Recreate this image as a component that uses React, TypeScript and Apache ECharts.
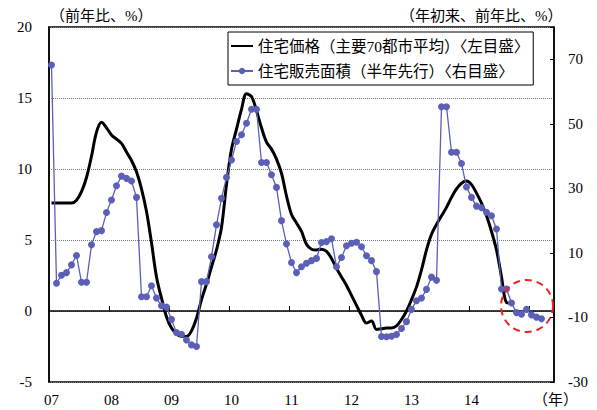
import React, { useEffect, useRef } from 'react';
import * as echarts from 'echarts';

// Year tick labels (category axis, one category per month)
const yearLabels = ['07', '08', '09', '10', '11', '12', '13', '14', '15'];
const monthCount = 101;

// 住宅価格（主要70都市平均）前年比 % — left axis
const priceYoY = [
  7.6, 7.6, 7.6, 7.6, 7.6, 7.8, 8.4, 9.4, 10.9, 12.6, 13.3, 12.9,
  12.4, 12.1, 11.8, 11.2, 10.6, 9.8, 8.6, 7.0, 4.8, 2.4, 0.9, -0.4,
  -1.2, -1.6, -1.8, -1.8, -1.4, -0.5, 0.8, 1.9, 3.1, 4.3, 5.9, 8.9,
  11.4, 12.8, 14.2, 15.3, 15.1, 14.1, 12.9, 11.9, 11.4, 10.7, 9.7, 8.1,
  6.8, 6.2, 5.6, 4.7, 4.35, 4.3, 4.35, 4.2, 3.7, 3.0, 2.4, 1.8,
  1.1, 0.4, -0.3, -0.85, -0.7, -1.3, -1.25, -1.2, -1.2, -1.05, -0.6, 0.0,
  0.8, 1.7, 2.9, 4.3, 5.4, 6.1, 6.7, 7.3, 8.0, 8.6, 9.0, 9.15,
  8.9, 8.3, 7.6, 6.7, 5.6, 4.3, 2.4, 0.6, 0.55,
];

// 住宅販売面積（半年先行）年初来前年比 % — right axis
const salesAreaYoY = [
  68.2, 0.6, 3.1, 3.9, 6.3, 9.2, 0.9, 0.9, 12.5, 16.6, 16.9, 22.5,
  26.4, 30.8, 33.8, 33.1, 32.3, 27.2, -3.6, -3.6, -0.2, -4.0, -6.4, -6.8,
  -10.6, -14.7, -15.2, -17.0, -18.5, -19.0, 1.1, 1.1, 8.8, 18.7, 26.9, 33.4,
  38.8, 44.5, 46.6, 50.2, 54.5, 54.5, 38.0, 38.0, 34.2, 30.3, 20.0, 12.8,
  7.0, 3.9, 5.7, 6.8, 7.6, 8.3, 13.2, 13.5, 14.4, 5.7, 8.6, 12.2,
  13.0, 13.3, 11.9, 9.1, 7.6, 4.2, -15.9, -16.0, -15.8, -15.3, -13.4, -11.3,
  -7.5, -4.8, -4.0, -1.3, 2.5, 1.5, 55.3, 55.3, 41.2, 41.2, 37.7, 30.4,
  27.2, 24.5, 24.0, 22.6, 21.5, 17.4, -1.2, -1.2, -5.5, -8.5, -9.0, -7.5,
  -9.2, -9.9, -10.4,
];

const seriesNames = ['住宅価格（主要70都市平均）〈左目盛〉', '住宅販売面積（半年先行）〈右目盛〉'];
const leftTitle = '（前年比、%）';
const rightTitle = '（年初来、前年比、%）';
const xUnit = '（年）';

const FONT = '"Liberation Serif", "Noto Sans CJK JP", serif';

export default function App() {
  const ref = useRef<HTMLDivElement>(null);
  useEffect(() => {
    document.body.style.margin = '0';
    const chart = echarts.init(ref.current!, null, { renderer: 'svg' });
    const categories: string[] = [];
    for (let i = 0; i < monthCount; i++) {
      categories.push(yearLabels[Math.floor(i / 12)] + '/' + ((i % 12) + 1));
    }
    chart.setOption({
      animation: false,
      backgroundColor: '#fff',
      textStyle: { fontFamily: FONT },
      grid: {
        left: 49, top: 27, width: 505, height: 355,
        show: true, borderColor: '#000', borderWidth: 1.5, backgroundColor: 'transparent',
      },
      legend: {
        orient: 'vertical', left: 228, top: 32,
        borderColor: '#000', borderWidth: 1, backgroundColor: '#fff',
        padding: [4, 4, 4, 2], itemGap: 5, itemWidth: 22, itemHeight: 8,
        textStyle: { fontSize: 15.5, fontFamily: FONT, color: '#000', lineHeight: 20 },
        data: [
          { name: seriesNames[0], itemStyle: { color: 'rgba(0,0,0,0)', borderWidth: 0 } },
          { name: seriesNames[1] },
        ],
      },
      xAxis: [
        {
          type: 'category', data: categories, boundaryGap: true, position: 'bottom',
          axisLine: { show: false, onZero: false },
          axisTick: { show: false },
          axisLabel: {
            interval: 11, margin: 10, fontSize: 15, fontFamily: FONT, color: '#000',
            formatter: (v: string) => {
              const [y, m] = v.split('/');
              return m === '1' && y !== '15' ? y : '';
            },
          },
          splitLine: { show: false },
        },
        {
          type: 'category', data: categories, boundaryGap: true, position: 'bottom',
          axisLine: { show: true, onZero: true, onZeroAxisIndex: 0, lineStyle: { color: '#000', width: 1.5 } },
          axisTick: { show: true, inside: true, interval: 11, length: 5, lineStyle: { color: '#000', width: 1 } },
          axisLabel: { show: false },
          splitLine: { show: false },
        },
      ],
      yAxis: [
        {
          type: 'value', min: -5, max: 20, interval: 5, position: 'left',
          axisLine: { show: true, lineStyle: { color: '#000', width: 1.5 } },
          axisTick: { show: false },
          axisLabel: { margin: 17, fontSize: 15, fontFamily: FONT, color: '#000' },
          splitLine: { show: true, lineStyle: { type: 'dotted', color: '#777', width: 1 } },
        },
        {
          type: 'value', min: -30, max: 80, interval: 20, position: 'right',
          axisLine: { show: true, lineStyle: { color: '#000', width: 1.5 } },
          axisTick: { show: true, inside: true, length: 4, lineStyle: { color: '#000' } },
          axisLabel: {
            margin: 14, fontSize: 15, fontFamily: FONT, color: '#000',
            formatter: (v: number) => (v === 80 ? '' : String(v)),
          },
          splitLine: { show: false },
        },
      ],
      series: [
        {
          name: seriesNames[0], type: 'line', xAxisIndex: 0, yAxisIndex: 0,
          data: priceYoY, smooth: 0.35, symbol: 'none',
          lineStyle: { color: '#000', width: 3 }, itemStyle: { color: '#000' }, z: 3,
        },
        {
          name: seriesNames[1], type: 'line', xAxisIndex: 0, yAxisIndex: 1,
          data: salesAreaYoY, symbol: 'circle', symbolSize: 7, showSymbol: true, showAllSymbol: true,
          lineStyle: { color: '#5b5fb5', width: 1.3 }, itemStyle: { color: '#5b5fb5' }, z: 4,
        },
      ],
      graphic: [
        { type: 'text', left: 50, top: 8, style: { text: leftTitle, fontSize: 15, fontFamily: FONT, fill: '#000' } },
        { type: 'text', left: 400, top: 8, style: { text: rightTitle, fontSize: 15, fontFamily: FONT, fill: '#000' } },
        { type: 'text', left: 533, top: 392, style: { text: xUnit, fontSize: 15, fontFamily: FONT, fill: '#000' } },
        {
          type: 'circle', shape: { cx: 527, cy: 306, r: 26 }, z: 10,
          style: { fill: 'none', stroke: '#e8242a', lineWidth: 2, lineDash: [7, 5] },
        },
      ],
    });
    return () => chart.dispose();
  }, []);
  return <div ref={ref} style={{ width: 597, height: 410 }} />;
}
